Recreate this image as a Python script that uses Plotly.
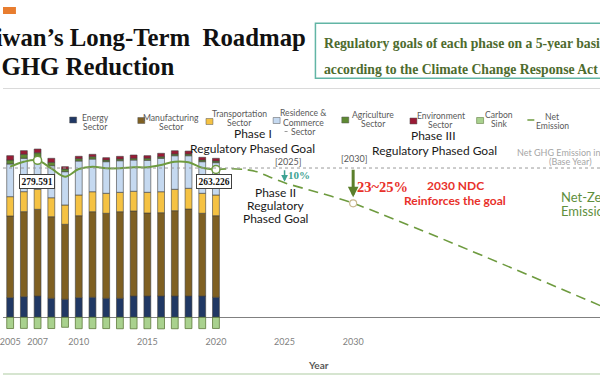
import plotly.graph_objects as go

# ---------------- data (Mt CO2e) ----------------
years = [2005, 2006, 2007, 2008, 2009, 2010, 2011, 2012, 2013, 2014, 2015, 2016, 2017, 2018, 2019, 2020]
energy = [34.9, 36.7, 37.9, 33.8, 32.1, 34.9, 35.6, 33.8, 33.8, 37.9, 37.9, 37.9, 37.9, 37.9, 37.9, 35.6]
manufacturing = [145.5, 151.4, 154.4, 145.3, 133.5, 146.0, 152.4, 151.4, 154.2, 151.4, 147.8, 148.3, 151.9, 154.9, 147.3, 145.3]
transportation = [34.4, 35.6, 35.6, 33.8, 34.4, 36.9, 35.6, 35.6, 34.5, 35.1, 36.9, 37.4, 38.1, 36.9, 35.6, 36.9]
residence_commerce = [58.2, 59.5, 58.0, 57.0, 59.3, 60.5, 58.2, 56.3, 56.3, 55.7, 57.0, 59.5, 59.8, 58.0, 56.3, 57.5]
agriculture = [7.1, 7.1, 7.1, 6.1, 4.8, 4.1, 4.1, 3.0, 3.0, 3.0, 3.6, 2.8, 3.0, 3.0, 3.0, 3.0]
environment = [7.7, 6.4, 6.6, 7.1, 4.1, 4.3, 4.3, 4.1, 4.8, 5.9, 4.6, 6.1, 5.9, 5.3, 4.8, 4.8]
carbon_sink = [-20.0, -19.8, -20.1, -20.0, -17.8, -20.3, -20.2, -20.1, -20.4, -20.5, -20.3, -20.6, -20.4, -20.1, -20.2, -19.9]
net_emission = [268.2, 277.0, 279.591, 265.0, 250.4, 264.0, 268.2, 265.3, 265.3, 267.1, 267.1, 271.2, 277.1, 276.0, 266.4, 263.226]

base_year_net = 265.8
path_years = [2020, 2021, 2022, 2023, 2024, 2025, 2030, 2050]
path_values = [263.226, 264.4, 263.5, 259.0, 249.0, 239.5, 203.0, 0.0]

tick_years = [2005, 2007, 2010, 2015, 2020, 2025, 2030]
labelled_years = [2007, 2020]

# ---------------- styling ----------------
W, H = 600, 375
SANS = "Lato"
SERIF = "Liberation Serif"
GREEN = "#6E9B3F"

sectors = [
    (["Energy", "Sector"], energy, "#203864"),
    (["Manufacturing", "Sector"], manufacturing, "#7F6022"),
    (["Transportation", "Sector"], transportation, "#F5C243"),
    (["Residence &", "Commerce", "Sector"], residence_commerce, "#C5D9F0"),
    (["Agriculture", "Sector"], agriculture, "#5E8A32"),
    (["Environment", "Sector"], environment, "#9A1B35"),
]


def px(x):
    return x / W


def py(y):
    return 1 - y / H


fig = go.Figure()
for lines, vals, col in sectors:
    fig.add_trace(go.Bar(x=years, y=vals, name=" ".join(lines), width=0.5,
                         marker=dict(color=col, line=dict(color="#3f3f3f", width=0.6))))
fig.add_trace(go.Bar(x=years, y=carbon_sink, name="Carbon Sink", width=0.5,
                     marker=dict(color="#A9D18E", line=dict(color="#4F6B2A", width=0.7))))

fig.add_trace(go.Scatter(x=years, y=net_emission, mode="lines", name="Net Emission",
                         line=dict(color=GREEN, width=2, shape="spline")))
fig.add_trace(go.Scatter(x=path_years, y=path_values, mode="lines", name="Pathway",
                         line=dict(color=GREEN, width=1.6, dash="10px,6px", shape="spline", smoothing=0.8)))
idx = [years.index(y) for y in labelled_years]
fig.add_trace(go.Scatter(x=labelled_years, y=[net_emission[i] for i in idx], mode="markers",
                         marker=dict(size=8, color="white", line=dict(color=GREEN, width=1.5))))
fig.add_trace(go.Scatter(x=[path_years[6]], y=[path_values[6]], mode="markers",
                         marker=dict(size=7, color="white", line=dict(color="#C9B98F", width=1.2))))

shapes = []
shapes.append(dict(type="line", xref="paper", yref="y", x0=0, x1=1, y0=base_year_net, y1=base_year_net,
                   line=dict(color="#9a9a9a", width=1, dash="dot"), layer="above"))
shapes.append(dict(type="rect", xref="paper", yref="paper", x0=px(0), x1=px(13), y0=py(7), y1=py(14),
                   fillcolor="#E87D2F", line=dict(width=0)))
shapes.append(dict(type="line", xref="paper", yref="paper", x0=0, x1=1, y0=py(88.5), y1=py(88.5),
                   line=dict(color="#DADADA", width=1)))
shapes.append(dict(type="line", xref="paper", yref="paper", x0=0, x1=1, y0=py(374), y1=py(374),
                   line=dict(color="#C9DDC0", width=1.5)))
shapes.append(dict(type="rect", xref="paper", yref="paper", x0=px(314), x1=px(640), y0=py(78.3), y1=py(23.3),
                   line=dict(color="#62B5A5", width=1.5), fillcolor="rgba(0,0,0,0)"))

annotations = []


def txt(text, x, y, size, color, family=SANS, xanchor="center", align="center", bold=False):
    if bold:
        text = "<b>" + text + "</b>"
    annotations.append(dict(text=text, xref="paper", yref="paper", x=px(x), y=py(y), xanchor=xanchor,
                            yanchor="middle", align=align, showarrow=False,
                            font=dict(family=family, size=size, color=color)))


# title
txt("Taiwan’s Long-Term  Roadmap", -36, 37, 24.8, "#111111", SERIF, "left", "left", True)
txt("for GHG Reduction", -41, 67, 24.8, "#111111", SERIF, "left", "left", True)
txt("Regulatory goals of each phase on a 5-year basis", 320.5, 44, 13.7, "#4E6B2E", SERIF, "left", "left", True)
txt("according to the Climate Change Response Act", 320.5, 70, 13.7, "#4E6B2E", SERIF, "left", "left", True)

# legend (manual): swatch centre, text centre x, text line y's
LEG_FONT = 8.6
legend_items = [
    (70.5, 120, 93, [118, 127]),
    (139, 120.5, 169, [118, 127]),
    (207.5, 121.5, 238, [114, 123]),
    (275, 120.5, 302, [113, 122.5, 131.5]),
    (344, 120, 372, [115, 124]),
    (412.5, 121, 440, [116, 125]),
]
for (sx, sy, tx, tys), (lines, _, col) in zip(legend_items, sectors):
    shapes.append(dict(type="rect", xref="paper", yref="paper", x0=px(sx - 3.5), x1=px(sx + 3.5),
                       y0=py(sy + 3), y1=py(sy - 3), fillcolor=col, line=dict(color="#555555", width=0.5)))
    for line, ty in zip(lines, tys):
        txt(line, tx, ty, LEG_FONT, "#595959")
shapes.append(dict(type="rect", xref="paper", yref="paper", x0=px(476), x1=px(483), y0=py(123.5), y1=py(117.5),
                   fillcolor="#A9D18E", line=dict(color="#4F6B2A", width=0.5)))
txt("Carbon", 498, 115, LEG_FONT, "#595959")
txt("Sink", 498, 124, LEG_FONT, "#595959")
shapes.append(dict(type="line", xref="paper", yref="paper", x0=px(527), x1=px(534), y0=py(120), y1=py(120),
                   line=dict(color=GREEN, width=1.5)))
txt("Net", 552, 116.7, LEG_FONT, "#595959")
txt("Emission", 552, 126, LEG_FONT, "#595959")
shapes.append(dict(type="line", xref="paper", yref="paper", x0=px(283), x1=px(289), y0=py(131.5), y1=py(131.5),
                   line=dict(color="#9a9a9a", width=1, dash="dot")))

# phase labels
txt("Phase I", 251, 134, 12, "#1a1a1a")
txt("Regulatory Phased Goal", 250.5, 148, 12, "#1a1a1a")
txt("Phase II", 274, 192, 12, "#1a1a1a")
txt("Regulatory", 274, 205.5, 12, "#1a1a1a")
txt("Phased Goal", 274, 218.5, 12, "#1a1a1a")
txt("Phase III", 433, 135, 12, "#1a1a1a")
txt("Regulatory Phased Goal", 434, 150, 12, "#1a1a1a")
txt("[2025]", 286, 162, 9, "#595959")
txt("[2030]", 353, 159, 9, "#595959")
txt("Net GHG Emission in 2005", 570, 152, 9, "#A6A6A6")
txt("(Base Year)", 570, 161, 9, "#A6A6A6")
txt("10%", 297.5, 175, 11, "#3FA393", SERIF, bold=True)
txt("23~25%", 381, 187, 14.5, "#E8312A", SERIF, bold=True)
txt("2030 NDC", 455, 185, 12, "#E8312A", bold=True)
txt("Reinforces the goal", 454, 200, 12, "#E8312A", bold=True)
txt("Net-Zero", 559, 197, 13, "#5F8F3E", xanchor="left", align="left")
txt("Emissions", 559, 211, 13, "#5F8F3E", xanchor="left", align="left")
txt("Year", 317.5, 365, 10, "#595959", bold=True)

# value boxes
for i, xs, ys in [(idx[0], -0.5, -20.8), (idx[1], -1.5, -12.5)]:
    annotations.append(dict(x=years[i], y=net_emission[i], xref="x", yref="y", text=f"<b>{net_emission[i]:.3f}</b>",
                            showarrow=False, xshift=xs, yshift=ys, bgcolor="white", bordercolor="#404040",
                            borderwidth=1, borderpad=1.5, font=dict(family=SERIF, size=9.5, color="#111111")))

# arrows
annotations.append(dict(x=path_years[5], y=path_values[5], xref="x", yref="y", ax=0, ay=-14, text="",
                        showarrow=True, arrowhead=2, arrowsize=0.9, arrowwidth=1.5, arrowcolor="#3FA393", standoff=1))
annotations.append(dict(x=path_years[6], y=path_values[6], xref="x", yref="y", ax=0, ay=-35, text="",
                        showarrow=True, arrowhead=2, arrowsize=0.7, arrowwidth=3, arrowcolor="#5B7F2B", standoff=6))

ZERO_PX, K = 317.3, 0.5616
fig.update_layout(
    width=W, height=H, margin=dict(l=0, r=0, t=0, b=0),
    paper_bgcolor="white", plot_bgcolor="rgba(0,0,0,0)",
    barmode="relative", bargap=0.5, showlegend=False, hovermode=False,
    shapes=shapes, annotations=annotations,
    xaxis=dict(range=[2005 - 7.2 / 13.79, 2020 + 386 / 13.79], domain=[0, 1], tickvals=tick_years,
               showgrid=False, zeroline=False, showline=False, ticks="", ticklabeloverflow="allow",
               tickfont=dict(family=SANS, size=9, color="#7f7f7f")),
    yaxis=dict(range=[-(335 - ZERO_PX) / K, (ZERO_PX - 95) / K], domain=[py(335), py(95)],
               showgrid=False, showticklabels=False, zeroline=True, zerolinecolor="#808080", zerolinewidth=1.2),
)

fig.write_html("out.html", config={"displayModeBar": False},
               post_script="document.body.style.margin='0';document.body.style.overflow='hidden';")
